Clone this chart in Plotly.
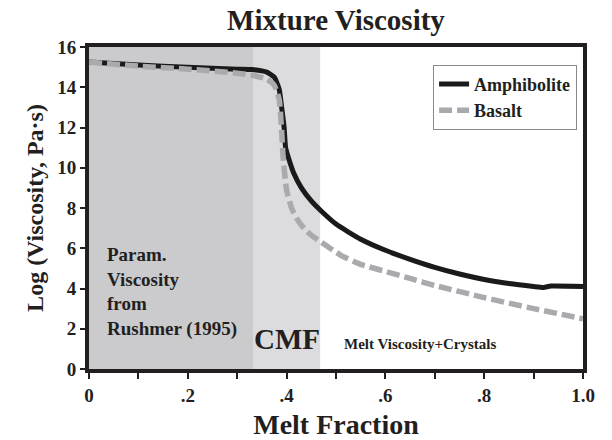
import plotly.graph_objects as go

# Datos
melt_amph = [0.0, 0.1, 0.2, 0.3, 0.33, 0.36, 0.375, 0.385, 0.39, 0.395, 0.398, 0.405,
             0.415, 0.43, 0.45, 0.47, 0.5, 0.55, 0.6, 0.65, 0.7, 0.75, 0.8,
             0.85, 0.9, 0.92, 0.935, 1.0]
visc_amph = [15.25, 15.1, 15.0, 14.9, 14.88, 14.75, 14.5, 13.9, 13.0, 12.0, 11.0, 10.4,
             9.7, 9.0, 8.35, 7.85, 7.2, 6.45, 5.9, 5.45, 5.05, 4.72, 4.45,
             4.25, 4.1, 4.05, 4.12, 4.1]

melt_bas = [0.0, 0.1, 0.2, 0.3, 0.33, 0.36, 0.375, 0.385, 0.39, 0.393, 0.4, 0.41,
            0.42, 0.435, 0.45, 0.47, 0.51, 0.55, 0.6, 0.65, 0.7, 0.8, 0.9, 1.0]
visc_bas = [15.25, 15.05, 14.9, 14.7, 14.6, 14.4, 14.1, 13.4, 11.8, 10.5, 8.9, 8.0,
            7.5, 7.0, 6.65, 6.3, 5.65, 5.2, 4.85, 4.5, 4.15, 3.55, 3.0, 2.5]

# Zonas sombreadas (fracción de fundido)
zona_param = [0.0, 0.332]
zona_cmf = [0.332, 0.468]

x_ticks = [0, 0.1, 0.2, 0.3, 0.4, 0.5, 0.6, 0.7, 0.8, 0.9, 1.0]
x_tick_text = ["0", "", ".2", "", ".4", "", ".6", "", ".8", "", "1.0"]
y_ticks = [0, 2, 4, 6, 8, 10, 12, 14, 16]

FUENTE = "Liberation Serif"
TINTA = "#231f20"

fig = go.Figure()

fig.add_trace(go.Scatter(
    x=melt_amph, y=visc_amph, mode="lines", name="Amphibolite",
    line=dict(color="#1a1a1a", width=5, shape="spline", smoothing=0.5),
))
fig.add_trace(go.Scatter(
    x=melt_bas, y=visc_bas, mode="lines", name="Basalt",
    line=dict(color="#a9aaad", width=5.5, dash="13px,5px", shape="spline", smoothing=0.5),
))

# Fondos grises
fig.add_shape(type="rect", xref="x", yref="paper", x0=zona_param[0], x1=zona_param[1],
              y0=0, y1=1, fillcolor="#cbcbce", line_width=0, layer="below")
fig.add_shape(type="rect", xref="x", yref="paper", x0=zona_cmf[0], x1=zona_cmf[1],
              y0=0, y1=1, fillcolor="#dcdcdf", line_width=0, layer="below")

fig.add_annotation(x=0.032, y=3.85, xref="x", yref="y", xanchor="left", yanchor="middle",
                   text="<b>Param.<br>Viscosity<br>from<br>Rushmer (1995)</b>", align="left",
                   showarrow=False, font=dict(family=FUENTE, size=19, color=TINTA))
fig.add_annotation(x=0.40, y=1.5, xref="x", yref="y", xanchor="center", yanchor="middle",
                   text="<b>CMF</b>", showarrow=False,
                   font=dict(family=FUENTE, size=29, color=TINTA))
fig.add_annotation(x=0.513, y=1.25, xref="x", yref="y", xanchor="left", yanchor="middle",
                   text="<b>Melt Viscosity+Crystals</b>", showarrow=False,
                   font=dict(family=FUENTE, size=15, color=TINTA))

fig.update_layout(
    width=612, height=440,
    margin={"l": 89, "r": 29, "t": 47, "b": 71},
    paper_bgcolor="white", plot_bgcolor="white",
    font=dict(family=FUENTE, color=TINTA),
    title=dict(text="<b>Mixture Viscosity</b>", x=0.549, xanchor="center", y=0.955, yanchor="middle",
               font=dict(family=FUENTE, size=29, color=TINTA)),
    showlegend=True,
    legend=dict(x=0.988, y=0.945, xanchor="right", yanchor="top",
                bgcolor="white", bordercolor="#8a8a8a", borderwidth=1,
                font=dict(family=FUENTE, size=18, color=TINTA, weight="bold"),
                tracegroupgap=0, itemwidth=30),
)

fig.update_xaxes(
    range=[0, 1], tickvals=x_ticks, ticktext=x_tick_text,
    ticks="outside", ticklen=6, tickwidth=2, tickcolor=TINTA,
    showline=True, linewidth=4, linecolor=TINTA, mirror=True,
    showgrid=False, zeroline=False, automargin=False,
    tickfont=dict(family=FUENTE, size=19, color=TINTA, weight="bold"),
    title=dict(text="<b>Melt Fraction</b>", standoff=14,
               font=dict(family=FUENTE, size=28, color=TINTA)),
)
fig.update_yaxes(
    range=[0, 16], tickvals=y_ticks,
    ticks="outside", ticklen=5, tickwidth=2, tickcolor=TINTA,
    showline=True, linewidth=4, linecolor=TINTA, mirror=True,
    showgrid=False, zeroline=False, automargin=False,
    tickfont=dict(family=FUENTE, size=19, color=TINTA, weight="bold"),
    title=dict(text="<b>Log (Viscosity, Pa·s)</b>", standoff=8,
               font=dict(family=FUENTE, size=24, color=TINTA)),
)

fig.write_html("out.html", config={"displayModeBar": False},
               post_script="document.body.style.margin='0';")
